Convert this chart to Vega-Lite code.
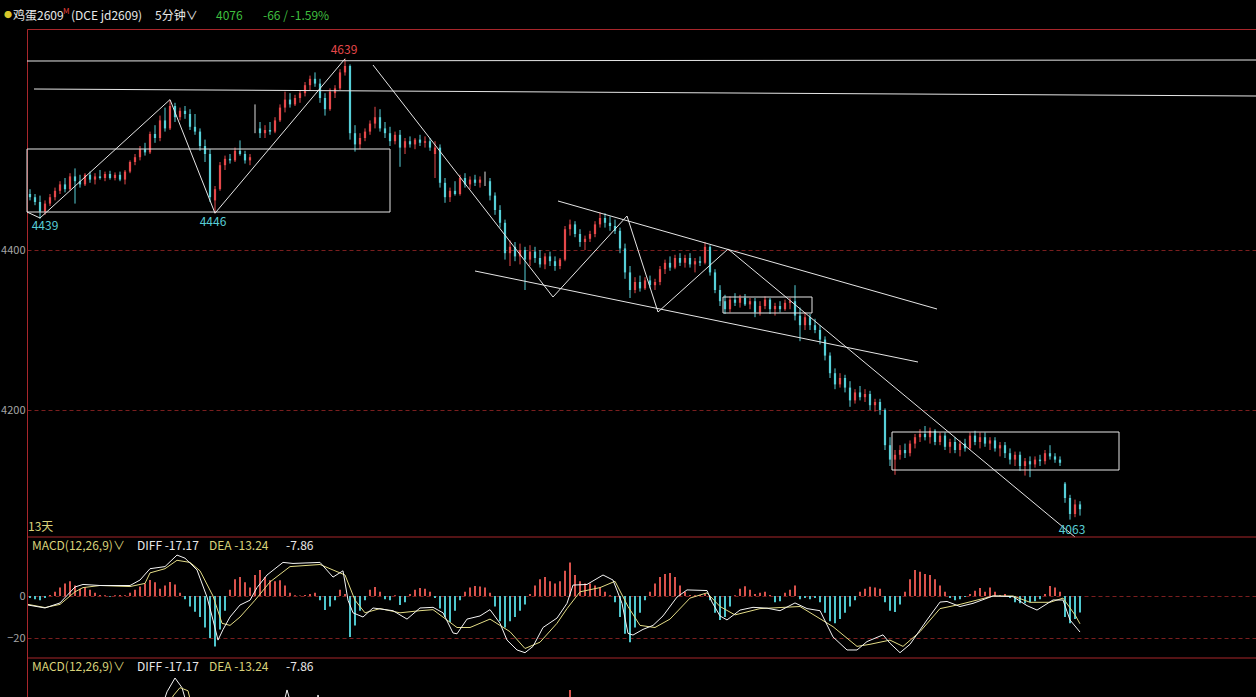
{
"$schema": "https://vega.github.io/schema/vega-lite/v6.json",
"width": 1229,
"height": 668,
"autosize": {"type": "none"},
"padding": {"left": 27, "top": 29, "right": 0, "bottom": 0},
"background": "#000000",
"config": {"view": {"stroke": null}},
"datasets": {
"candles": [
{"t":0,"o":4470,"h":4476,"l":4462,"c":4466,"m":-1},
{"t":1,"o":4466,"h":4470,"l":4456,"c":4460,"m":-1.5},
{"t":2,"o":4460,"h":4468,"l":4439,"c":4448,"m":-2},
{"t":3,"o":4448,"h":4462,"l":4444,"c":4458,"m":-1},
{"t":4,"o":4458,"h":4470,"l":4455,"c":4466,"m":0.5},
{"t":5,"o":4466,"h":4478,"l":4462,"c":4474,"m":2},
{"t":6,"o":4474,"h":4486,"l":4470,"c":4482,"m":4},
{"t":7,"o":4482,"h":4490,"l":4472,"c":4476,"m":6},
{"t":8,"o":4476,"h":4496,"l":4474,"c":4492,"m":7},
{"t":9,"o":4492,"h":4502,"l":4458,"c":4486,"m":5},
{"t":10,"o":4486,"h":4494,"l":4478,"c":4482,"m":3.5},
{"t":11,"o":4482,"h":4496,"l":4480,"c":4494,"m":4.3},
{"t":12,"o":4494,"h":4498,"l":4484,"c":4488,"m":3},
{"t":13,"o":4488,"h":4496,"l":4482,"c":4492,"m":1.5},
{"t":14,"o":4492,"h":4500,"l":4488,"c":4490,"m":0.5},
{"t":15,"o":4490,"h":4498,"l":4486,"c":4495,"m":0.3},
{"t":16,"o":4495,"h":4499,"l":4488,"c":4490,"m":-0.3},
{"t":17,"o":4490,"h":4497,"l":4487,"c":4494,"m":0.3},
{"t":18,"o":4494,"h":4498,"l":4486,"c":4488,"m":0.5},
{"t":19,"o":4488,"h":4500,"l":4482,"c":4498,"m":0.3},
{"t":20,"o":4498,"h":4512,"l":4496,"c":4510,"m":1.5},
{"t":21,"o":4510,"h":4520,"l":4506,"c":4516,"m":3},
{"t":22,"o":4516,"h":4530,"l":4512,"c":4526,"m":4.5},
{"t":23,"o":4526,"h":4534,"l":4518,"c":4522,"m":6},
{"t":24,"o":4522,"h":4548,"l":4520,"c":4545,"m":7.6},
{"t":25,"o":4545,"h":4556,"l":4534,"c":4540,"m":6.5},
{"t":26,"o":4540,"h":4568,"l":4536,"c":4562,"m":3.5},
{"t":27,"o":4562,"h":4578,"l":4548,"c":4552,"m":5},
{"t":28,"o":4552,"h":4587,"l":4550,"c":4580,"m":6.7},
{"t":29,"o":4580,"h":4584,"l":4560,"c":4566,"m":5.5},
{"t":30,"o":4566,"h":4578,"l":4562,"c":4574,"m":1.5},
{"t":31,"o":4574,"h":4580,"l":4564,"c":4570,"m":-1.5},
{"t":32,"o":4570,"h":4576,"l":4550,"c":4554,"m":-5},
{"t":33,"o":4554,"h":4570,"l":4544,"c":4548,"m":-7.5},
{"t":34,"o":4548,"h":4552,"l":4524,"c":4530,"m":-10},
{"t":35,"o":4530,"h":4538,"l":4510,"c":4520,"m":-15},
{"t":36,"o":4520,"h":4526,"l":4460,"c":4466,"m":-20},
{"t":37,"o":4462,"h":4480,"l":4446,"c":4476,"m":-24},
{"t":38,"o":4476,"h":4510,"l":4474,"c":4506,"m":-16},
{"t":39,"o":4506,"h":4518,"l":4500,"c":4514,"m":-7},
{"t":40,"o":4514,"h":4520,"l":4508,"c":4512,"m":3},
{"t":41,"o":4512,"h":4528,"l":4510,"c":4524,"m":8},
{"t":42,"o":4524,"h":4537,"l":4518,"c":4520,"m":9},
{"t":43,"o":4520,"h":4524,"l":4508,"c":4512,"m":6.5},
{"t":44,"o":4512,"h":4520,"l":4506,"c":4516,"m":4},
{"t":45,"o":4550,"h":4582,"l":4546,"c":4550,"m":10},
{"t":46,"o":4552,"h":4560,"l":4540,"c":4546,"m":12.4},
{"t":47,"o":4546,"h":4556,"l":4540,"c":4550,"m":9},
{"t":48,"o":4550,"h":4560,"l":4544,"c":4548,"m":7.5},
{"t":49,"o":4548,"h":4566,"l":4546,"c":4562,"m":7},
{"t":50,"o":4562,"h":4582,"l":4560,"c":4578,"m":7.5},
{"t":51,"o":4578,"h":4598,"l":4572,"c":4588,"m":5},
{"t":52,"o":4588,"h":4596,"l":4578,"c":4582,"m":1.5},
{"t":53,"o":4582,"h":4594,"l":4580,"c":4590,"m":0.3},
{"t":54,"o":4590,"h":4600,"l":4584,"c":4596,"m":0.2},
{"t":55,"o":4596,"h":4610,"l":4592,"c":4606,"m":0.5},
{"t":56,"o":4606,"h":4618,"l":4600,"c":4614,"m":1},
{"t":57,"o":4614,"h":4622,"l":4604,"c":4608,"m":1.5},
{"t":58,"o":4608,"h":4614,"l":4584,"c":4590,"m":-2},
{"t":59,"o":4590,"h":4596,"l":4568,"c":4576,"m":-6.7},
{"t":60,"o":4576,"h":4602,"l":4574,"c":4598,"m":-5},
{"t":61,"o":4596,"h":4606,"l":4590,"c":4602,"m":-2},
{"t":62,"o":4602,"h":4626,"l":4600,"c":4622,"m":3},
{"t":63,"o":4622,"h":4639,"l":4618,"c":4630,"m":1},
{"t":64,"o":4630,"h":4632,"l":4538,"c":4546,"m":-19.5},
{"t":65,"o":4546,"h":4556,"l":4523,"c":4532,"m":-14},
{"t":66,"o":4532,"h":4546,"l":4526,"c":4540,"m":-7},
{"t":67,"o":4540,"h":4552,"l":4536,"c":4548,"m":-2},
{"t":68,"o":4548,"h":4562,"l":4544,"c":4558,"m":3},
{"t":69,"o":4558,"h":4579,"l":4552,"c":4566,"m":4.3},
{"t":70,"o":4566,"h":4576,"l":4548,"c":4552,"m":2},
{"t":71,"o":4552,"h":4560,"l":4540,"c":4546,"m":-1.5},
{"t":72,"o":4546,"h":4554,"l":4530,"c":4536,"m":-2},
{"t":73,"o":4536,"h":4548,"l":4532,"c":4544,"m":0.3},
{"t":74,"o":4544,"h":4550,"l":4504,"c":4528,"m":-4.3},
{"t":75,"o":4528,"h":4540,"l":4520,"c":4536,"m":-3},
{"t":76,"o":4536,"h":4542,"l":4528,"c":4532,"m":1},
{"t":77,"o":4532,"h":4540,"l":4526,"c":4538,"m":3},
{"t":78,"o":4538,"h":4544,"l":4530,"c":4534,"m":3.8},
{"t":79,"o":4534,"h":4542,"l":4528,"c":4536,"m":3.5},
{"t":80,"o":4536,"h":4540,"l":4524,"c":4528,"m":2},
{"t":81,"o":4520,"h":4536,"l":4490,"c":4528,"m":-1},
{"t":82,"o":4528,"h":4532,"l":4478,"c":4484,"m":-6},
{"t":83,"o":4484,"h":4490,"l":4459,"c":4466,"m":-10},
{"t":84,"o":4466,"h":4478,"l":4460,"c":4474,"m":-12.4},
{"t":85,"o":4474,"h":4486,"l":4468,"c":4470,"m":-7},
{"t":86,"o":4470,"h":4494,"l":4468,"c":4490,"m":-2},
{"t":87,"o":4490,"h":4496,"l":4478,"c":4482,"m":2},
{"t":88,"o":4482,"h":4492,"l":4476,"c":4488,"m":4},
{"t":89,"o":4488,"h":4494,"l":4480,"c":4484,"m":4.8},
{"t":90,"o":4484,"h":4492,"l":4478,"c":4488,"m":4.5},
{"t":91,"o":4486,"h":4498,"l":4480,"c":4486,"m":4},
{"t":92,"o":4486,"h":4490,"l":4462,"c":4468,"m":1.5},
{"t":93,"o":4468,"h":4472,"l":4444,"c":4450,"m":-5},
{"t":94,"o":4450,"h":4456,"l":4428,"c":4434,"m":-12},
{"t":95,"o":4434,"h":4438,"l":4388,"c":4396,"m":-15},
{"t":96,"o":4396,"h":4412,"l":4380,"c":4404,"m":-12},
{"t":97,"o":4404,"h":4410,"l":4386,"c":4392,"m":-10},
{"t":98,"o":4392,"h":4408,"l":4382,"c":4400,"m":-7},
{"t":99,"o":4400,"h":4404,"l":4350,"c":4388,"m":-4},
{"t":100,"o":4388,"h":4406,"l":4380,"c":4398,"m":1},
{"t":101,"o":4398,"h":4404,"l":4384,"c":4390,"m":5},
{"t":102,"o":4390,"h":4400,"l":4378,"c":4382,"m":8},
{"t":103,"o":4382,"h":4396,"l":4376,"c":4392,"m":9},
{"t":104,"o":4392,"h":4398,"l":4380,"c":4386,"m":7},
{"t":105,"o":4386,"h":4392,"l":4374,"c":4380,"m":6},
{"t":106,"o":4380,"h":4390,"l":4376,"c":4388,"m":7},
{"t":107,"o":4388,"h":4430,"l":4386,"c":4426,"m":12},
{"t":108,"o":4426,"h":4438,"l":4418,"c":4432,"m":16},
{"t":109,"o":4432,"h":4436,"l":4416,"c":4420,"m":10},
{"t":110,"o":4420,"h":4426,"l":4404,"c":4410,"m":7},
{"t":111,"o":4410,"h":4418,"l":4400,"c":4414,"m":6},
{"t":112,"o":4414,"h":4424,"l":4410,"c":4420,"m":6},
{"t":113,"o":4420,"h":4436,"l":4416,"c":4432,"m":5},
{"t":114,"o":4432,"h":4447,"l":4428,"c":4440,"m":4},
{"t":115,"o":4440,"h":4446,"l":4428,"c":4434,"m":2},
{"t":116,"o":4434,"h":4442,"l":4424,"c":4430,"m":0.3},
{"t":117,"o":4430,"h":4438,"l":4420,"c":4424,"m":-3},
{"t":118,"o":4424,"h":4428,"l":4396,"c":4402,"m":-10},
{"t":119,"o":4402,"h":4408,"l":4364,"c":4372,"m":-18},
{"t":120,"o":4372,"h":4380,"l":4340,"c":4350,"m":-22},
{"t":121,"o":4350,"h":4366,"l":4346,"c":4360,"m":-15},
{"t":122,"o":4360,"h":4368,"l":4348,"c":4352,"m":-8},
{"t":123,"o":4352,"h":4366,"l":4350,"c":4362,"m":-2},
{"t":124,"o":4362,"h":4368,"l":4352,"c":4356,"m":2},
{"t":125,"o":4356,"h":4364,"l":4350,"c":4360,"m":6},
{"t":126,"o":4360,"h":4380,"l":4356,"c":4376,"m":9},
{"t":127,"o":4376,"h":4388,"l":4370,"c":4384,"m":10.5},
{"t":128,"o":4384,"h":4392,"l":4374,"c":4378,"m":11},
{"t":129,"o":4378,"h":4394,"l":4376,"c":4390,"m":9},
{"t":130,"o":4390,"h":4396,"l":4380,"c":4384,"m":5},
{"t":131,"o":4384,"h":4394,"l":4378,"c":4390,"m":2},
{"t":132,"o":4390,"h":4396,"l":4378,"c":4382,"m":0.5},
{"t":133,"o":4382,"h":4390,"l":4372,"c":4386,"m":0.3},
{"t":134,"o":4386,"h":4392,"l":4380,"c":4384,"m":0.5},
{"t":135,"o":4384,"h":4410,"l":4382,"c":4404,"m":1},
{"t":136,"o":4404,"h":4406,"l":4368,"c":4372,"m":-2},
{"t":137,"o":4372,"h":4376,"l":4346,"c":4350,"m":-8},
{"t":138,"o":4350,"h":4356,"l":4330,"c":4336,"m":-11.4},
{"t":139,"o":4336,"h":4344,"l":4320,"c":4326,"m":-10},
{"t":140,"o":4326,"h":4342,"l":4322,"c":4338,"m":-5},
{"t":141,"o":4338,"h":4346,"l":4330,"c":4334,"m":0.3},
{"t":142,"o":4334,"h":4344,"l":4328,"c":4340,"m":3.5},
{"t":143,"o":4340,"h":4345,"l":4330,"c":4332,"m":4.6},
{"t":144,"o":4332,"h":4340,"l":4326,"c":4336,"m":3},
{"t":145,"o":4336,"h":4340,"l":4316,"c":4322,"m":1},
{"t":146,"o":4322,"h":4336,"l":4318,"c":4330,"m":1.5},
{"t":147,"o":4330,"h":4342,"l":4326,"c":4338,"m":2},
{"t":148,"o":4338,"h":4340,"l":4320,"c":4326,"m":0.5},
{"t":149,"o":4326,"h":4334,"l":4318,"c":4330,"m":-3},
{"t":150,"o":4330,"h":4336,"l":4322,"c":4326,"m":-2.5},
{"t":151,"o":4326,"h":4338,"l":4324,"c":4334,"m":1.5},
{"t":152,"o":4334,"h":4340,"l":4326,"c":4336,"m":3},
{"t":153,"o":4336,"h":4356,"l":4312,"c":4318,"m":5},
{"t":154,"o":4318,"h":4328,"l":4286,"c":4306,"m":-1.5},
{"t":155,"o":4306,"h":4322,"l":4300,"c":4316,"m":-1},
{"t":156,"o":4316,"h":4320,"l":4300,"c":4306,"m":-1.5},
{"t":157,"o":4306,"h":4314,"l":4296,"c":4300,"m":-1},
{"t":158,"o":4300,"h":4306,"l":4282,"c":4288,"m":-3},
{"t":159,"o":4288,"h":4292,"l":4262,"c":4268,"m":-8},
{"t":160,"o":4268,"h":4272,"l":4240,"c":4246,"m":-12},
{"t":161,"o":4246,"h":4252,"l":4226,"c":4232,"m":-13},
{"t":162,"o":4232,"h":4246,"l":4228,"c":4240,"m":-11},
{"t":163,"o":4240,"h":4244,"l":4222,"c":4228,"m":-8},
{"t":164,"o":4228,"h":4236,"l":4204,"c":4212,"m":-5},
{"t":165,"o":4212,"h":4226,"l":4208,"c":4222,"m":-2},
{"t":166,"o":4222,"h":4230,"l":4212,"c":4216,"m":2},
{"t":167,"o":4216,"h":4226,"l":4210,"c":4220,"m":3.5},
{"t":168,"o":4220,"h":4224,"l":4200,"c":4206,"m":4.4},
{"t":169,"o":4206,"h":4214,"l":4198,"c":4210,"m":4},
{"t":170,"o":4210,"h":4214,"l":4194,"c":4200,"m":3.5},
{"t":171,"o":4200,"h":4202,"l":4150,"c":4156,"m":-3},
{"t":172,"o":4156,"h":4166,"l":4130,"c":4138,"m":-7},
{"t":173,"o":4138,"h":4150,"l":4119,"c":4144,"m":-7.6},
{"t":174,"o":4144,"h":4156,"l":4138,"c":4150,"m":-4},
{"t":175,"o":4150,"h":4158,"l":4140,"c":4146,"m":2},
{"t":176,"o":4146,"h":4162,"l":4142,"c":4158,"m":8},
{"t":177,"o":4158,"h":4170,"l":4152,"c":4166,"m":12.4},
{"t":178,"o":4166,"h":4176,"l":4160,"c":4170,"m":11.5},
{"t":179,"o":4170,"h":4180,"l":4162,"c":4166,"m":10.5},
{"t":180,"o":4166,"h":4178,"l":4158,"c":4174,"m":10},
{"t":181,"o":4174,"h":4176,"l":4156,"c":4160,"m":8},
{"t":182,"o":4160,"h":4172,"l":4156,"c":4168,"m":5},
{"t":183,"o":4168,"h":4172,"l":4150,"c":4154,"m":2},
{"t":184,"o":4154,"h":4164,"l":4146,"c":4160,"m":-1},
{"t":185,"o":4160,"h":4166,"l":4146,"c":4150,"m":-2},
{"t":186,"o":4150,"h":4162,"l":4142,"c":4158,"m":-1.5},
{"t":187,"o":4158,"h":4164,"l":4148,"c":4152,"m":-0.5},
{"t":188,"o":4152,"h":4172,"l":4150,"c":4168,"m":1},
{"t":189,"o":4168,"h":4174,"l":4156,"c":4160,"m":2.5},
{"t":190,"o":4160,"h":4172,"l":4152,"c":4166,"m":3.8},
{"t":191,"o":4166,"h":4172,"l":4154,"c":4158,"m":2},
{"t":192,"o":4158,"h":4166,"l":4150,"c":4162,"m":4},
{"t":193,"o":4162,"h":4166,"l":4148,"c":4152,"m":2},
{"t":194,"o":4152,"h":4160,"l":4142,"c":4156,"m":0.5},
{"t":195,"o":4156,"h":4160,"l":4140,"c":4146,"m":1},
{"t":196,"o":4146,"h":4152,"l":4132,"c":4138,"m":-1},
{"t":197,"o":4138,"h":4148,"l":4130,"c":4144,"m":-3},
{"t":198,"o":4144,"h":4148,"l":4124,"c":4130,"m":-3.5},
{"t":199,"o":4130,"h":4140,"l":4118,"c":4136,"m":-3.5},
{"t":200,"o":4136,"h":4142,"l":4116,"c":4132,"m":-3},
{"t":201,"o":4132,"h":4142,"l":4128,"c":4138,"m":-2.5},
{"t":202,"o":4138,"h":4144,"l":4130,"c":4136,"m":-1.5},
{"t":203,"o":4136,"h":4150,"l":4132,"c":4146,"m":1},
{"t":204,"o":4146,"h":4156,"l":4138,"c":4142,"m":4.8},
{"t":205,"o":4142,"h":4146,"l":4134,"c":4138,"m":4},
{"t":206,"o":4138,"h":4142,"l":4130,"c":4134,"m":2},
{"t":207,"o":4108,"h":4110,"l":4084,"c":4090,"m":-10},
{"t":208,"o":4090,"h":4094,"l":4063,"c":4070,"m":-13},
{"t":209,"o":4070,"h":4088,"l":4066,"c":4082,"m":-11},
{"t":210,"o":4082,"h":4086,"l":4068,"c":4076,"m":-7.86}
],
"segs": [
{"t":-0.6,"p":4636.25,"t2":245.2,"p2":4637.5},
{"t":0.8,"p":4601.25,"t2":245.2,"p2":4592.5},
{"t":-0.6,"p":4447.5,"t2":2,"p2":4440},
{"t":2,"p":4440,"t2":28,"p2":4588},
{"t":28,"p":4588,"t2":37,"p2":4446},
{"t":37,"p":4446,"t2":63,"p2":4639},
{"t":68.6,"p":4631.25,"t2":104.6,"p2":4341.25},
{"t":104.6,"p":4341.25,"t2":119.4,"p2":4442.5},
{"t":119.4,"p":4442.5,"t2":125.6,"p2":4322.5},
{"t":125.6,"p":4322.5,"t2":139.6,"p2":4401.25},
{"t":139.6,"p":4401.25,"t2":209,"p2":4041.25},
{"t":105.6,"p":4461.25,"t2":181.4,"p2":4326.25},
{"t":89,"p":4373.75,"t2":177.6,"p2":4260}
],
"boxes": [
{"t":-0.6,"t2":72,"p":4447.5,"p2":4526.25},
{"t":138.6,"t2":156.4,"p":4321.25,"p2":4341.25},
{"t":172.4,"t2":217.8,"p":4125,"p2":4172.5}
],
"psep": [{"t":-0.6,"t2":245.2,"p":4041.25}],
"msep": [{"t":-0.6,"t2":245.2,"v":-29.524}],
"plabels": [
{"t":62.8,"p":4650,"txt":"4639","k":"up"},
{"t":3,"p":4430,"txt":"4439","k":"dn"},
{"t":36.6,"p":4435,"txt":"4446","k":"dn"},
{"t":208.4,"p":4050,"txt":"4063","k":"dn"}
],
"notes": [
{"t":-5.2,"p":4692.5,"txt":"●","k":"dot"},
{"t":-3.4,"p":4692.5,"txt":"鸡蛋2609","k":"wh"},
{"t":6.6,"p":4697.5,"txt":"M","k":"sup"},
{"t":8.2,"p":4692.5,"txt":"(DCE jd2609)","k":"wh"},
{"t":25,"p":4692.5,"txt":"5分钟∨","k":"wh"},
{"t":37.2,"p":4692.5,"txt":"4076","k":"gr"},
{"t":46.6,"p":4692.5,"txt":"-66 / -1.59%","k":"gr"},
{"t":-0.4,"p":4053.75,"txt":"13天","k":"yel"}
],
"mnotes": [
{"t":0.4,"v":23.81,"txt":"MACD(12,26,9)∨","k":"yel"},
{"t":21.4,"v":23.81,"txt":"DIFF -17.17","k":"wh"},
{"t":35.8,"v":23.81,"txt":"DEA -13.24","k":"yel"},
{"t":51.2,"v":23.81,"txt":"-7.86","k":"wh"}
],
"diff": [
{"t":-0.4,"v":-4.3},{"t":3,"v":-5.7},{"t":6,"v":-3.3},{"t":9,"v":4.3},{"t":10.6,"v":5.5},{"t":14,"v":5},{"t":20,"v":5},{"t":22,"v":7.6},{"t":24,"v":13},{"t":27,"v":14},{"t":29.4,"v":19.5},{"t":31,"v":18},{"t":33.4,"v":12.4},{"t":35.4,"v":-0.5},{"t":36.6,"v":-11.4},{"t":37.6,"v":-21},{"t":38.6,"v":-16},{"t":40,"v":-10},{"t":42,"v":-4.3},{"t":44,"v":-2},{"t":45.4,"v":4},{"t":47.4,"v":10},{"t":50.6,"v":16},{"t":52.6,"v":15.5},{"t":58,"v":16},{"t":60.6,"v":9},{"t":62.6,"v":12},{"t":63.6,"v":-2},{"t":64.6,"v":-8},{"t":66.6,"v":-10},{"t":68.6,"v":-5.7},{"t":72.6,"v":-7},{"t":75.4,"v":-11},{"t":78,"v":-5.7},{"t":80.6,"v":-5.4},{"t":82.6,"v":-8},{"t":84.6,"v":-17.6},{"t":85.4,"v":-18},{"t":87.4,"v":-11},{"t":90,"v":-9.5},{"t":92,"v":-6.5},{"t":94,"v":-13},{"t":95.4,"v":-21},{"t":97.4,"v":-25.7},{"t":99,"v":-27},{"t":100.6,"v":-24},{"t":102.6,"v":-15},{"t":105.4,"v":-10.5},{"t":107.4,"v":-3.5},{"t":108.6,"v":5.2},{"t":111.4,"v":5.5},{"t":114.6,"v":10},{"t":116.6,"v":7.6},{"t":118.4,"v":-3.5},{"t":119.6,"v":-17.8},{"t":120.6,"v":-18.6},{"t":122.6,"v":-15.9},{"t":124.6,"v":-14},{"t":126.6,"v":-9.5},{"t":129.4,"v":-0.5},{"t":131.4,"v":2.9},{"t":135.4,"v":2.6},{"t":136.4,"v":-2.9},{"t":138,"v":-9.5},{"t":139.4,"v":-11.4},{"t":142,"v":-6.7},{"t":144.6,"v":-5.4},{"t":147.4,"v":-5.8},{"t":150,"v":-7},{"t":153,"v":-3.3},{"t":155.4,"v":-6},{"t":158,"v":-7},{"t":160.6,"v":-19.5},{"t":163.4,"v":-25.7},{"t":165.4,"v":-25.7},{"t":167.4,"v":-21.7},{"t":170.6,"v":-18.5},{"t":172,"v":-22.5},{"t":174,"v":-27},{"t":176,"v":-23},{"t":179.4,"v":-11.4},{"t":182,"v":-2.9},{"t":183.4,"v":-2.6},{"t":186,"v":-5},{"t":188.6,"v":-3.5},{"t":192.6,"v":0},{"t":196.6,"v":-0.3},{"t":199.4,"v":-4.6},{"t":201.4,"v":-6.7},{"t":204.6,"v":-1.9},{"t":206.6,"v":-1.9},{"t":208,"v":-11.4},{"t":210,"v":-17.17}
],
"dea": [
{"t":-0.4,"v":-4},{"t":3,"v":-5.5},{"t":6,"v":-4},{"t":9,"v":2},{"t":10.6,"v":4},{"t":14,"v":5},{"t":20,"v":4.5},{"t":23,"v":6},{"t":24,"v":11},{"t":27,"v":13},{"t":29.4,"v":17},{"t":32,"v":16},{"t":34,"v":12},{"t":36.6,"v":0},{"t":38.4,"v":-13},{"t":40,"v":-14},{"t":42,"v":-10},{"t":45,"v":-2},{"t":48,"v":6.7},{"t":52,"v":14},{"t":58,"v":15},{"t":61,"v":12},{"t":63,"v":10},{"t":65,"v":-2},{"t":67,"v":-8},{"t":70,"v":-6},{"t":74,"v":-8},{"t":78,"v":-7},{"t":80.6,"v":-6.5},{"t":85.4,"v":-15},{"t":88,"v":-15},{"t":92,"v":-11},{"t":96,"v":-17},{"t":99,"v":-25},{"t":102,"v":-22},{"t":105.4,"v":-13},{"t":107.4,"v":-6},{"t":110,"v":2},{"t":114,"v":4},{"t":117,"v":7},{"t":119.6,"v":-5},{"t":122,"v":-14},{"t":125,"v":-15},{"t":128,"v":-11},{"t":132,"v":-1},{"t":135.4,"v":1.5},{"t":138,"v":-5},{"t":141,"v":-9},{"t":146,"v":-6},{"t":154,"v":-5},{"t":160.6,"v":-14.6},{"t":165.4,"v":-24},{"t":168,"v":-23},{"t":172,"v":-21},{"t":174.6,"v":-24},{"t":178,"v":-17},{"t":182,"v":-6},{"t":186,"v":-4},{"t":192.6,"v":0},{"t":196.6,"v":0},{"t":200,"v":-3},{"t":204,"v":-3},{"t":206.6,"v":-1},{"t":209,"v":-9},{"t":210,"v":-13.24}
],
"p3w": [
{"t":26,"v":2,"g":"a"},{"t":27.4,"v":12,"g":"a"},{"t":29,"v":18.6,"g":"a"},{"t":30.4,"v":14,"g":"a"},{"t":31.6,"v":4,"g":"a"},
{"t":50.4,"v":3,"g":"b"},{"t":51.4,"v":12.9,"g":"b"},{"t":52.6,"v":3,"g":"b"},
{"t":57,"v":3,"g":"c"},{"t":57.6,"v":10.5,"g":"c"},{"t":58.4,"v":3,"g":"c"}
],
"p3y": [{"t":27.6,"v":2},{"t":28.6,"v":10},{"t":30,"v":14},{"t":31.6,"v":12.5},{"t":32.6,"v":3}],
"p3h": [{"t":108,"v":12.9}]
},
"encoding": {
"x": {"field": "t", "type": "quantitative", "scale": {"domain": [-0.6, 245.2], "nice": false, "zero": false}, "axis": {"orient": "top", "labels": false, "ticks": false, "grid": false, "domain": true, "domainColor": "#a8262b", "domainWidth": 1, "title": null}}
},
"resolve": {"scale": {"y": "independent"}, "axis": {"y": "independent"}},
"layer": [
{
"layer": [
{"data": {"name": "candles"}, "mark": {"type": "rule", "strokeWidth": 1},
 "encoding": {
  "y": {"field": "l", "type": "quantitative", "scale": {"domain": [3841.25, 4676.25], "nice": false, "zero": false}, "axis": {"orient": "left", "values": [4400, 4200], "format": "d", "grid": true, "ticks": false, "domain": true, "domainColor": "#a8262b", "labelColor": "#a6a6a6", "labelFontSize": 11, "labelPadding": 2, "labelFont": "Noto Sans CJK SC", "gridColor": "#7a1e1e", "gridDash": [4, 3], "title": null}},
  "y2": {"field": "h"},
  "color": {"condition": [{"test": "datum.c > datum.o", "value": "#e5484a"}, {"test": "datum.c == datum.o", "value": "#dcdcdc"}], "value": "#56cfd8"}}},
{"data": {"name": "candles"}, "mark": {"type": "rule", "strokeWidth": 2.2},
 "encoding": {
  "y": {"field": "o", "type": "quantitative", "scale": {"domain": [3841.25, 4676.25], "nice": false, "zero": false}},
  "y2": {"field": "c"},
  "color": {"condition": [{"test": "datum.c > datum.o", "value": "#e5484a"}, {"test": "datum.c == datum.o", "value": "#dcdcdc"}], "value": "#56cfd8"}}},
{"data": {"name": "segs"}, "mark": {"type": "rule", "color": "#e6e6e6", "strokeWidth": 1},
 "encoding": {
  "x2": {"field": "t2"},
  "y": {"field": "p", "type": "quantitative", "scale": {"domain": [3841.25, 4676.25], "nice": false, "zero": false}},
  "y2": {"field": "p2"}}},
{"data": {"name": "boxes"}, "mark": {"type": "rect", "filled": false, "color": "#e6e6e6", "strokeWidth": 1},
 "encoding": {
  "x2": {"field": "t2"},
  "y": {"field": "p", "type": "quantitative", "scale": {"domain": [3841.25, 4676.25], "nice": false, "zero": false}},
  "y2": {"field": "p2"}}},
{"data": {"name": "psep"}, "mark": {"type": "rule", "color": "#a8262b", "strokeWidth": 1},
 "encoding": {
  "x2": {"field": "t2"},
  "y": {"field": "p", "type": "quantitative", "scale": {"domain": [3841.25, 4676.25], "nice": false, "zero": false}}}},
{"data": {"name": "plabels"}, "mark": {"type": "text", "font": "Noto Sans CJK SC", "fontSize": 12, "align": "center", "baseline": "middle"},
 "encoding": {
  "y": {"field": "p", "type": "quantitative", "scale": {"domain": [3841.25, 4676.25], "nice": false, "zero": false}},
  "text": {"field": "txt"},
  "color": {"field": "k", "type": "nominal", "legend": null, "scale": {"domain": ["wh", "gr", "yel", "dot", "sup", "up", "dn"], "range": ["#e8e8e8", "#3fbf3f", "#d9d27a", "#d8c62a", "#e0403c", "#e5484a", "#58cdd6"]}}}},
{"data": {"name": "notes"}, "mark": {"type": "text", "font": "Noto Sans CJK SC", "align": "left", "baseline": "middle"},
 "encoding": {
  "y": {"field": "p", "type": "quantitative", "scale": {"domain": [3841.25, 4676.25], "nice": false, "zero": false}},
  "text": {"field": "txt"},
  "size": {"condition": {"test": "datum.k == 'dot' || datum.k == 'sup'", "value": 8}, "value": 12},
  "color": {"field": "k", "type": "nominal", "legend": null, "scale": {"domain": ["wh", "gr", "yel", "dot", "sup", "up", "dn"], "range": ["#e8e8e8", "#3fbf3f", "#d9d27a", "#d8c62a", "#e0403c", "#e5484a", "#58cdd6"]}}}}
]
},
{
"layer": [
{"data": {"name": "candles"}, "mark": {"type": "rule", "strokeWidth": 2},
 "encoding": {
  "y": {"field": "m", "type": "quantitative", "scale": {"domain": [-48.095, 270], "nice": false, "zero": false}, "axis": {"orient": "left", "values": [0, -20], "format": "d", "grid": true, "ticks": false, "domain": true, "domainColor": "#a8262b", "labelColor": "#a6a6a6", "labelFontSize": 11, "labelPadding": 2, "labelFont": "Noto Sans CJK SC", "gridColor": "#7a1e1e", "gridDash": [4, 3], "title": null}},
  "y2": {"datum": 0},
  "color": {"condition": {"test": "datum.m > 0", "value": "#d9524c"}, "value": "#4ec5cc"}}},
{"data": {"name": "dea"}, "mark": {"type": "line", "color": "#e3dc86", "strokeWidth": 1},
 "encoding": {"y": {"field": "v", "type": "quantitative", "scale": {"domain": [-48.095, 270], "nice": false, "zero": false}}}},
{"data": {"name": "diff"}, "mark": {"type": "line", "color": "#f4f4f4", "strokeWidth": 1},
 "encoding": {"y": {"field": "v", "type": "quantitative", "scale": {"domain": [-48.095, 270], "nice": false, "zero": false}}}},
{"data": {"name": "msep"}, "mark": {"type": "rule", "color": "#a8262b", "strokeWidth": 1},
 "encoding": {
  "x2": {"field": "t2"},
  "y": {"field": "v", "type": "quantitative", "scale": {"domain": [-48.095, 270], "nice": false, "zero": false}}}},
{"data": {"name": "mnotes"}, "mark": {"type": "text", "font": "Noto Sans CJK SC", "fontSize": 12, "align": "left", "baseline": "middle"},
 "encoding": {
  "y": {"field": "v", "type": "quantitative", "scale": {"domain": [-48.095, 270], "nice": false, "zero": false}},
  "text": {"field": "txt"},
  "color": {"field": "k", "type": "nominal", "legend": null, "scale": {"domain": ["wh", "gr", "yel", "dot", "sup", "up", "dn"], "range": ["#e8e8e8", "#3fbf3f", "#d9d27a", "#d8c62a", "#e0403c", "#e5484a", "#58cdd6"]}}}}
]
},
{
"layer": [
{"data": {"name": "p3w"}, "mark": {"type": "line", "color": "#f4f4f4", "strokeWidth": 1},
 "encoding": {"y": {"field": "v", "type": "quantitative", "scale": {"domain": [9.529, 328.62], "nice": false, "zero": false}, "axis": null}, "detail": {"field": "g"}}},
{"data": {"name": "p3y"}, "mark": {"type": "line", "color": "#e3dc86", "strokeWidth": 1},
 "encoding": {"y": {"field": "v", "type": "quantitative", "scale": {"domain": [9.529, 328.62], "nice": false, "zero": false}, "axis": null}}},
{"data": {"name": "p3h"}, "mark": {"type": "rule", "color": "#d9524c", "strokeWidth": 2},
 "encoding": {"y": {"field": "v", "type": "quantitative", "scale": {"domain": [9.529, 328.62], "nice": false, "zero": false}, "axis": null}, "y2": {"datum": 0}}},
{"data": {"name": "mnotes"}, "mark": {"type": "text", "font": "Noto Sans CJK SC", "fontSize": 12, "align": "left", "baseline": "middle"},
 "encoding": {
  "y": {"field": "v", "type": "quantitative", "scale": {"domain": [9.529, 328.62], "nice": false, "zero": false}, "axis": null},
  "text": {"field": "txt"},
  "color": {"field": "k", "type": "nominal", "legend": null, "scale": {"domain": ["wh", "gr", "yel", "dot", "sup", "up", "dn"], "range": ["#e8e8e8", "#3fbf3f", "#d9d27a", "#d8c62a", "#e0403c", "#e5484a", "#58cdd6"]}}}}
]
}
]
}
